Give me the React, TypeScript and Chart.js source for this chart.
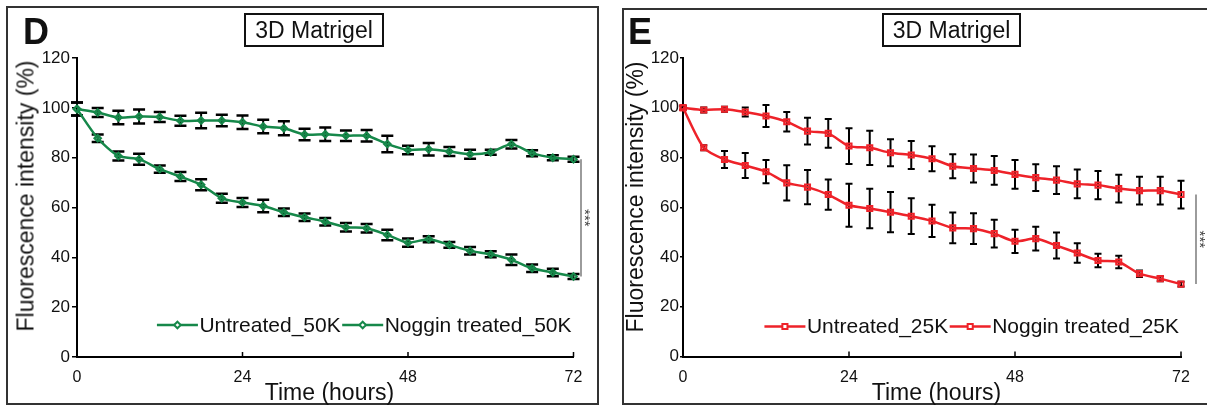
import React, { useEffect, useRef } from "react";
import { Chart, registerables } from "chart.js";

Chart.register(...registerables);

const FONT = '"Liberation Sans", Arial, Helvetica, sans-serif';

// ---------------- data ----------------
const TIME_HOURS = [0, 3, 6, 9, 12, 15, 18, 21, 24, 27, 30, 33, 36, 39, 42, 45, 48, 51, 54, 57, 60, 63, 66, 69, 72];
const X_TICK_VALUES = [0, 24, 48, 72];
const Y_TICK_VALUES = [0, 20, 40, 60, 80, 100, 120];

const PANEL_D_LABELS = ["Untreated_50K", "Noggin treated_50K"];
const D_UNTREATED_50K = [99.5, 98.1, 96.1, 96.5, 96.3, 94.8, 94.9, 94.9, 94.2, 92.5, 91.8, 89.3, 89.4, 88.8, 88.8, 85.5, 83.1, 83.4, 82.5, 81.4, 82.2, 85.4, 81.8, 80.0, 79.4];
const D_UNTREATED_50K_ERR = [2.6, 1.8, 2.7, 2.8, 2.0, 2.0, 3.1, 2.3, 2.7, 2.7, 2.8, 2.3, 2.7, 2.1, 2.3, 3.3, 1.7, 2.5, 1.8, 1.8, 1.0, 1.7, 1.2, 1.0, 1.0];
const D_NOGGIN_50K = [99.5, 87.8, 80.7, 79.4, 75.4, 72.4, 69.1, 63.7, 62.0, 60.6, 58.1, 56.1, 54.3, 52.1, 51.7, 49.0, 45.9, 47.3, 45.0, 42.6, 41.2, 39.0, 35.6, 33.9, 32.3];
const D_NOGGIN_50K_ERR = [2.6, 1.5, 1.8, 2.2, 1.5, 1.8, 2.2, 1.8, 1.8, 2.5, 1.5, 1.5, 1.5, 1.7, 1.7, 2.1, 1.7, 1.2, 1.2, 1.5, 1.2, 2.1, 1.5, 1.5, 1.0];

const PANEL_E_LABELS = ["Untreated_25K", "Noggin treated_25K"];
const E_UNTREATED_25K = [100, 99.1, 99.4, 98.3, 96.7, 94.4, 90.6, 89.7, 84.6, 83.9, 81.9, 81.0, 79.5, 76.5, 75.6, 74.8, 73.2, 71.9, 70.9, 69.4, 68.9, 67.5, 66.7, 66.7, 65.1];
const E_UNTREATED_25K_ERR = [0.8, 1.0, 1.0, 1.8, 4.4, 3.9, 5.4, 5.8, 7.2, 6.9, 5.4, 5.6, 5.0, 4.8, 5.6, 5.8, 5.8, 5.4, 5.6, 5.8, 5.7, 5.6, 5.6, 5.6, 5.6];
const E_NOGGIN_25K = [100, 83.9, 79.2, 76.8, 74.3, 69.8, 68.1, 65.1, 60.8, 59.5, 58.0, 56.4, 54.5, 51.7, 51.4, 49.4, 46.3, 47.4, 44.6, 41.6, 38.6, 38.0, 33.3, 31.3, 29.1];
const E_NOGGIN_25K_ERR = [0.8, 1.0, 3.4, 5.0, 4.7, 7.1, 6.9, 6.1, 8.6, 7.9, 8.1, 7.2, 6.5, 6.2, 6.2, 5.6, 4.7, 4.8, 5.2, 3.9, 2.7, 2.5, 1.3, 1.0, 1.0];

const GREEN = "#16884a";
const RED = "#ee2229";

// ---------------- plugins ----------------
const errorBarPlugin = {
  id: "errorBars",
  beforeDatasetsDraw(chart: any, _a: any, opts: any) {
    const { ctx } = chart;
    const ys = chart.scales.y;
    ctx.save();
    ctx.strokeStyle = "#000";
    chart.data.datasets.forEach((ds: any, di: number) => {
      const meta = chart.getDatasetMeta(di);
      const errs: number[] = ds.errors || [];
      meta.data.forEach((pt: any, i: number) => {
        const v = ds.data[i].y;
        const e = errs[i] || 0;
        const yt = ys.getPixelForValue(v + e);
        const yb = ys.getPixelForValue(v - e);
        ctx.lineWidth = opts.width;
        ctx.beginPath();
        ctx.moveTo(pt.x, yt);
        ctx.lineTo(pt.x, yb);
        ctx.stroke();
        ctx.lineWidth = opts.capWidth;
        ctx.beginPath();
        ctx.moveTo(pt.x - opts.cap, yt);
        ctx.lineTo(pt.x + opts.cap, yt);
        ctx.moveTo(pt.x - opts.cap, yb);
        ctx.lineTo(pt.x + opts.cap, yb);
        ctx.stroke();
      });
    });
    ctx.restore();
  },
};

const xTicksUpPlugin = {
  id: "xTicksUp",
  afterDraw(chart: any, _a: any, opts: any) {
    const { ctx, chartArea } = chart;
    const xs = chart.scales.x;
    ctx.save();
    ctx.strokeStyle = "#000";
    ctx.lineWidth = 1.5;
    xs.ticks.forEach((t: any) => {
      const px = xs.getPixelForValue(t.value);
      ctx.beginPath();
      ctx.moveTo(px, chartArea.bottom);
      ctx.lineTo(px, chartArea.bottom - opts.len);
      ctx.stroke();
    });
    ctx.restore();
  },
};

const sigPlugin = {
  id: "sigBar",
  afterDatasetsDraw(chart: any, _a: any, opts: any) {
    const { ctx, chartArea } = chart;
    const ys = chart.scales.y;
    const d0 = chart.data.datasets[0].data;
    const d1 = chart.data.datasets[1].data;
    const y0 = ys.getPixelForValue(d0[d0.length - 1].y);
    const y1 = ys.getPixelForValue(d1[d1.length - 1].y);
    const x = chartArea.right + opts.offset;
    ctx.save();
    ctx.strokeStyle = "#666";
    ctx.lineWidth = 1.3;
    ctx.beginPath();
    ctx.moveTo(x, y0);
    ctx.lineTo(x, y1);
    ctx.stroke();
    ctx.translate(x + opts.starDx, (y0 + y1) / 2 + opts.starDy);
    ctx.rotate(Math.PI / 2);
    ctx.fillStyle = "#444";
    ctx.font = `15px ${FONT}`;
    ctx.textAlign = "center";
    ctx.textBaseline = "middle";
    ctx.fillText("***", 0, 0);
    ctx.restore();
  },
};

function drawMarker(ctx: CanvasRenderingContext2D, style: string, r: number, x: number, y: number) {
  ctx.beginPath();
  if (style === "rectRot") {
    ctx.moveTo(x - r, y);
    ctx.lineTo(x, y - r);
    ctx.lineTo(x + r, y);
    ctx.lineTo(x, y + r);
    ctx.closePath();
  } else {
    const s = r * Math.SQRT1_2;
    ctx.rect(x - s, y - s, 2 * s, 2 * s);
  }
  ctx.fillStyle = "#fff";
  ctx.fill();
  ctx.stroke();
}

const innerLegendPlugin = {
  id: "innerLegend",
  afterDraw(chart: any, _a: any, opts: any) {
    const { ctx, chartArea } = chart;
    ctx.save();
    ctx.font = `${opts.fontSize}px ${FONT}`;
    const items = chart.data.datasets.map((ds: any) => ({
      text: ds.label,
      color: ds.borderColor,
      style: ds.pointStyle,
      r: ds.pointRadius,
      w: ctx.measureText(ds.label).width,
    }));
    const total = items.reduce((a: number, it: any) => a + opts.sample + opts.gap + it.w, 0) + opts.gap * (items.length - 1);
    let x = chartArea.right - opts.rightInset - total;
    const y = chartArea.bottom + opts.dy;
    items.forEach((it: any) => {
      ctx.strokeStyle = it.color;
      ctx.lineWidth = 2.5;
      ctx.beginPath();
      ctx.moveTo(x, y);
      ctx.lineTo(x + opts.sample, y);
      ctx.stroke();
      ctx.lineWidth = 2;
      drawMarker(ctx, it.style, it.r, x + opts.sample / 2, y);
      x += opts.sample + opts.gap;
      ctx.fillStyle = "#111";
      ctx.textAlign = "left";
      ctx.textBaseline = "middle";
      ctx.fillText(it.text, x, y + 1);
      x += it.w + opts.gap;
    });
    ctx.restore();
  },
};

// ---------------- panel specs ----------------
type Series = { label: string; values: number[]; errors: number[] };
type PanelSpec = {
  canvasLeft: number;
  canvasWidth: number;
  axisWidth: number;
  padRight: number;
  padTop: number;
  xAxisHeight: number;
  color: string;
  pointStyle: string;
  pointRadius: number;
  cap: number;
  capWidth: number;
  barWidth: number;
  yTickLength: number;
  yTickPad: number;
  sigOffset: number;
  legendDy: number;
  series: Series[];
};

const PANEL_D: PanelSpec = {
  canvasLeft: 0,
  canvasWidth: 600,
  axisWidth: 77,
  padRight: 26.5,
  padTop: 58,
  xAxisHeight: 50,
  color: GREEN,
  pointStyle: "rectRot",
  pointRadius: 3.3,
  cap: 6,
  capWidth: 2.5,
  barWidth: 2,
  yTickLength: 5,
  yTickPad: 2,
  sigOffset: 7.5,
  legendDy: -32,
  series: [
    { label: PANEL_D_LABELS[0], values: D_UNTREATED_50K, errors: D_UNTREATED_50K_ERR },
    { label: PANEL_D_LABELS[1], values: D_NOGGIN_50K, errors: D_NOGGIN_50K_ERR },
  ],
};

const PANEL_E: PanelSpec = {
  canvasLeft: 600,
  canvasWidth: 607,
  axisWidth: 83,
  padRight: 26,
  padTop: 58,
  xAxisHeight: 50.5,
  color: RED,
  pointStyle: "rect",
  pointRadius: 3.6,
  cap: 3.5,
  capWidth: 2,
  barWidth: 2,
  yTickLength: 3,
  yTickPad: 1,
  sigOffset: 15,
  legendDy: -30,
  series: [
    { label: PANEL_E_LABELS[0], values: E_UNTREATED_25K, errors: E_UNTREATED_25K_ERR },
    { label: PANEL_E_LABELS[1], values: E_NOGGIN_25K, errors: E_NOGGIN_25K_ERR },
  ],
};

function buildConfig(p: PanelSpec): any {
  const datasets = p.series.map((s) => ({
    label: s.label,
    data: TIME_HOURS.map((t, i) => ({ x: t, y: s.values[i] })),
    errors: s.errors,
    borderColor: p.color,
    backgroundColor: p.color,
    borderWidth: 2.5,
    pointStyle: p.pointStyle,
    pointRadius: p.pointRadius,
    pointBorderWidth: 2,
    pointBorderColor: p.color,
    pointBackgroundColor: "rgba(255,255,255,0)",
    tension: 0.25,
    clip: false,
  }));
  return {
    type: "line",
    data: { datasets },
    plugins: [errorBarPlugin, xTicksUpPlugin, sigPlugin, innerLegendPlugin],
    options: {
      responsive: false,
      animation: false,
      events: [],
      layout: { padding: { top: p.padTop, right: p.padRight, left: 0, bottom: 0 } },
      plugins: {
        legend: { display: false },
        tooltip: { enabled: false },
        title: { display: false },
        errorBars: { cap: p.cap, capWidth: p.capWidth, width: p.barWidth },
        xTicksUp: { len: 5 },
        sigBar: { offset: p.sigOffset, starDx: 3, starDy: 0 },
        innerLegend: { fontSize: 21, sample: 41, gap: 1.5, rightInset: 2, dy: p.legendDy },
      },
      scales: {
        x: {
          type: "linear",
          min: X_TICK_VALUES[0],
          max: X_TICK_VALUES[X_TICK_VALUES.length - 1],
          afterBuildTicks: (s: any) => {
            s.ticks = X_TICK_VALUES.map((v) => ({ value: v }));
          },
          afterFit: (s: any) => {
            s.height = p.xAxisHeight;
          },
          ticks: {
            font: { family: FONT, size: 16 },
            color: "#111",
            padding: 11,
            maxRotation: 0,
            autoSkip: false,
          },
          grid: { display: false, drawTicks: false },
          border: { display: true, color: "#000", width: 2 },
        },
        y: {
          type: "linear",
          min: Y_TICK_VALUES[0],
          max: Y_TICK_VALUES[Y_TICK_VALUES.length - 1],
          afterBuildTicks: (s: any) => {
            s.ticks = Y_TICK_VALUES.map((v) => ({ value: v }));
          },
          afterFit: (s: any) => {
            s.width = p.axisWidth;
          },
          ticks: {
            font: { family: FONT, size: 17 },
            color: "#111",
            padding: p.yTickPad,
            autoSkip: false,
          },
          grid: {
            display: true,
            drawOnChartArea: false,
            drawTicks: true,
            tickLength: p.yTickLength,
            color: "#000",
            lineWidth: 1.5,
          },
          border: { display: true, color: "#000", width: 2 },
        },
      },
    },
  };
}

function ChartCanvas({ spec }: { spec: PanelSpec }) {
  const ref = useRef<HTMLCanvasElement>(null);
  useEffect(() => {
    const chart = new Chart(ref.current as HTMLCanvasElement, buildConfig(spec));
    return () => chart.destroy();
  }, [spec]);
  return (
    <canvas
      ref={ref}
      width={spec.canvasWidth}
      height={407}
      style={{ position: "absolute", left: spec.canvasLeft, top: 0, width: spec.canvasWidth, height: 407 }}
    />
  );
}

const abs = (o: React.CSSProperties): React.CSSProperties => ({ position: "absolute", ...o });

function PanelDecor({
  letter,
  letterLeft,
  boxLeft,
  boxTop,
  boxW,
  boxH,
  yTitleX,
  yTitleY,
  xTitleX,
}: {
  letter: string;
  letterLeft: number;
  boxLeft: number;
  boxTop: number;
  boxW: number;
  boxH: number;
  yTitleX: number;
  yTitleY: number;
  xTitleX: number;
}) {
  return (
    <>
      <div
        style={abs({
          left: letterLeft,
          top: 14,
          fontSize: 36,
          lineHeight: "36px",
          fontWeight: "bold",
          color: "#111",
        })}
      >
        {letter}
      </div>
      <div
        style={abs({
          left: boxLeft,
          top: boxTop,
          width: boxW,
          height: boxH,
          boxSizing: "border-box",
          border: "2px solid #111",
          fontSize: 23,
          lineHeight: `${boxH - 4}px`,
          textAlign: "center",
          color: "#111",
          whiteSpace: "nowrap",
        })}
      >
        3D Matrigel
      </div>
      <div
        style={abs({
          left: yTitleX,
          top: yTitleY,
          transform: "translate(-50%, -50%) rotate(-90deg)",
          fontSize: 23,
          lineHeight: "23px",
          whiteSpace: "nowrap",
          color: "#111",
        })}
      >
        Fluorescence intensity (%)
      </div>
      <div
        style={abs({
          left: xTitleX,
          top: 381,
          transform: "translateX(-50%)",
          fontSize: 23,
          lineHeight: "23px",
          whiteSpace: "nowrap",
          color: "#111",
        })}
      >
        Time (hours)
      </div>
    </>
  );
}

export default function App() {
  return (
    <div
      style={{
        position: "absolute",
        left: 0,
        top: 0,
        width: 1207,
        height: 407,
        overflow: "hidden",
        background: "#fff",
        fontFamily: FONT,
      }}
    >
      <div style={abs({ left: 6, top: 6, width: 593, height: 399, boxSizing: "border-box", border: "2px solid #333" })} />
      <div style={abs({ left: 622, top: 8, width: 700, height: 397, boxSizing: "border-box", border: "2px solid #333" })} />
      <ChartCanvas spec={PANEL_D} />
      <ChartCanvas spec={PANEL_E} />
      <PanelDecor
        letter="D"
        letterLeft={23}
        boxLeft={244}
        boxTop={13}
        boxW={140}
        boxH={34}
        yTitleX={25.5}
        yTitleY={196}
        xTitleX={329.5}
      />
      <PanelDecor
        letter="E"
        letterLeft={628}
        boxLeft={882}
        boxTop={13}
        boxW={139}
        boxH={34}
        yTitleX={635}
        yTitleY={197}
        xTitleX={936.5}
      />
    </div>
  );
}
